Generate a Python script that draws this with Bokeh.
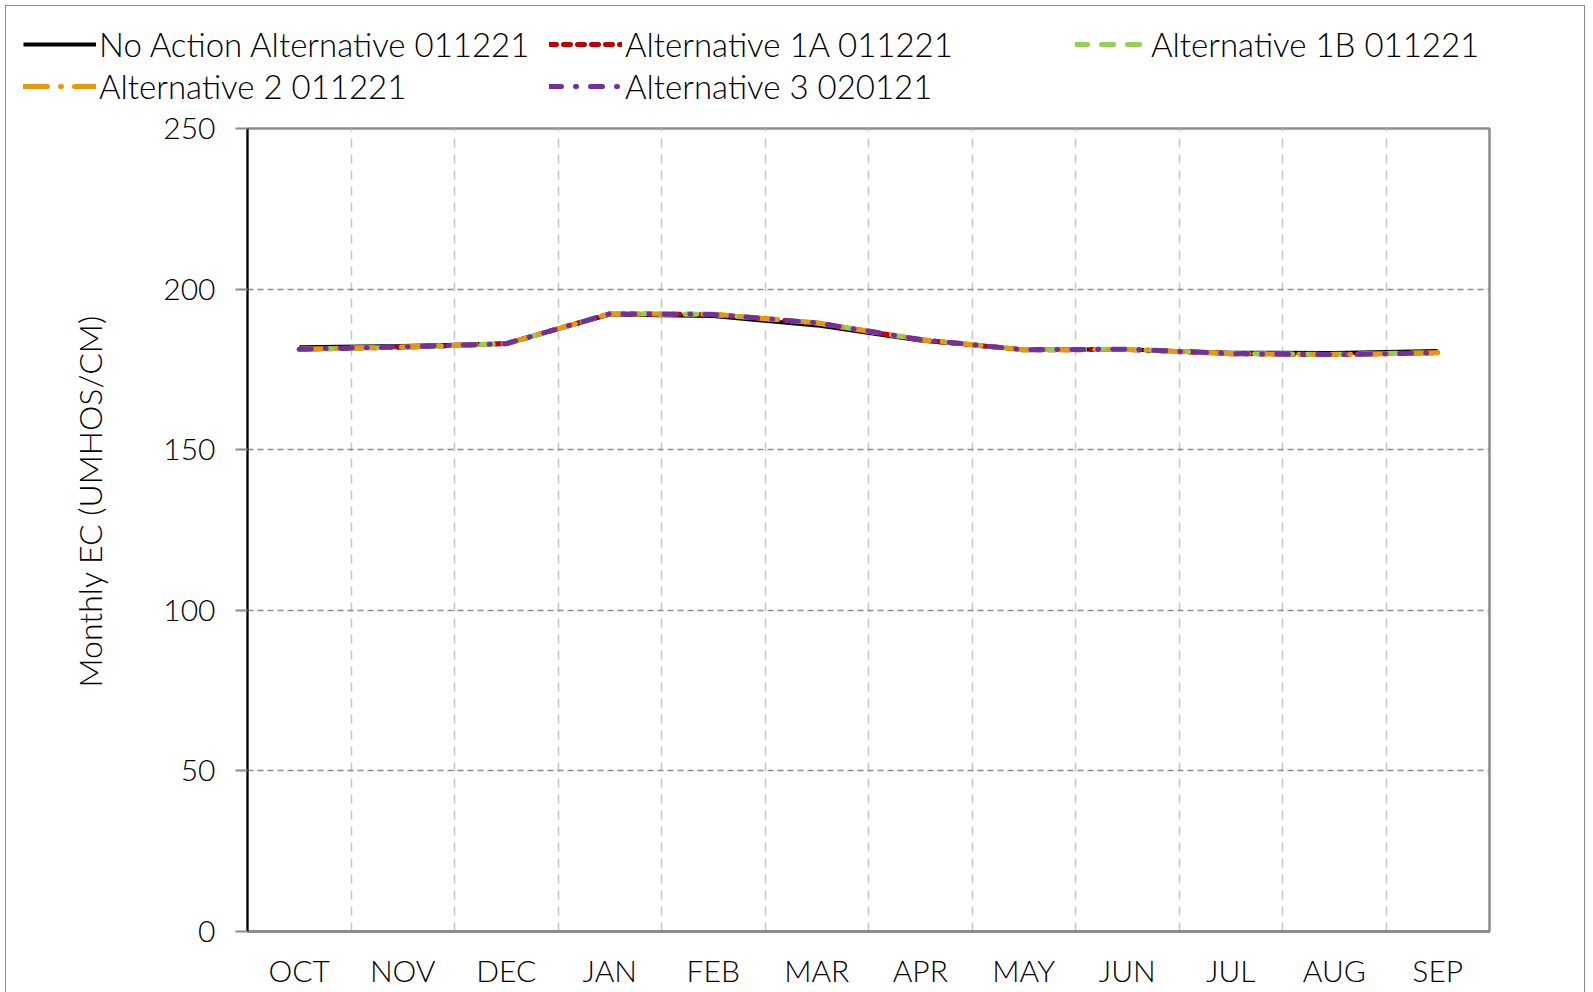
import numpy as np
from bokeh.plotting import figure
from bokeh.models import Range1d, FixedTicker, Legend, LegendItem, Title
from bokeh.embed import file_html
from bokeh.resources import INLINE

months = ["OCT", "NOV", "DEC", "JAN", "FEB", "MAR", "APR", "MAY", "JUN", "JUL", "AUG", "SEP"]
no_action = [181.9, 182.3, 183.1, 192.1, 191.6, 188.7, 184.0, 181.2, 181.2, 180.2, 180.1, 180.7]
alt_1a = [181.3, 181.9, 183.0, 192.3, 192.1, 189.4, 184.2, 181.1, 181.2, 179.9, 179.6, 180.2]
alt_1b = [181.3, 181.9, 183.0, 192.3, 192.1, 189.5, 184.3, 181.1, 181.3, 179.9, 179.7, 180.2]
alt_2 = [181.3, 182.0, 183.0, 192.3, 192.2, 189.5, 184.3, 181.1, 181.2, 179.9, 179.6, 180.2]
alt_3 = [181.3, 182.0, 183.0, 192.3, 192.1, 189.5, 184.3, 181.1, 181.3, 179.9, 179.6, 180.2]
series_names = ["No Action Alternative 011221", "Alternative 1A 011221", "Alternative 1B 011221",
                "Alternative 2 011221", "Alternative 3 020121"]
y_ticks = [0, 50, 100, 150, 200, 250]
y_title = "Monthly EC (UMHOS/CM)"

FONT = "'Lato Light', Lato"
FS = "30px"
FS_BIG = "32px"
FS_LEG = "33px"

styles = [
    dict(line_color="#000000", line_width=4, line_dash="solid"),
    dict(line_color="#C00000", line_width=5, line_dash="7 7", line_cap="round"),
    dict(line_color="#92D050", line_width=5, line_dash="12 14", line_cap="round"),
    dict(line_color="#E8980E", line_width=5, line_dash="24 13 1 13", line_cap="round"),
    dict(line_color="#7030A0", line_width=5, line_dash="12 14 1 14", line_cap="round"),
]
series = [no_action, alt_1a, alt_1b, alt_2, alt_3]

x = np.arange(len(months)) + 0.5

W = 1580
LEG_H = 100
BORDER = "1.5px solid #8a8a8a"

# ---------- legend strip (its own root; the series lie outside its ranges) ----------
lf = figure(width=W, height=LEG_H, output_backend="svg", toolbar_location=None,
            x_range=Range1d(0, 12), y_range=Range1d(0, 1),
            min_border=0, x_axis_location=None, y_axis_location=None)
lf.grid.visible = False
lf.outline_line_color = None
lf.styles = {"margin-left": "5px", "margin-top": "5px",
             "border-top": BORDER, "border-left": BORDER, "border-right": BORDER}
leg_r = [lf.line(x, vals, **st) for vals, st in zip(series, styles)]
order = [0, 3, 1, 4, 2]  # column-major fill: col1 = NA, Alt2; col2 = 1A, Alt3; col3 = 1B
legend = Legend(items=[LegendItem(label=series_names[i], renderers=[leg_r[i]]) for i in order],
                ncols=3, location=(17, 0),
                glyph_width=73, glyph_height=30, label_height=30, label_width=448,
                label_standoff=3, spacing=2, padding=0, margin=0,
                border_line_color=None, background_fill_alpha=0,
                label_text_font=FONT, label_text_font_size=FS_LEG, label_text_color="#000000")
lf.add_layout(legend, "center")

# ---------- main chart ----------
p = figure(width=W, height=887, output_backend="svg", toolbar_location=None,
           x_range=Range1d(0, 12), y_range=Range1d(0, 250),
           min_border_left=241, min_border_right=97, min_border_top=23, min_border_bottom=61)
p.styles = {"margin-left": "5px", "border-left": BORDER, "border-right": BORDER}

p.outline_line_color = "#8c8c8c"
p.outline_line_width = 2.5

p.ygrid.ticker = FixedTicker(ticks=y_ticks)
p.ygrid.grid_line_color = "#8c8c8c"
p.ygrid.grid_line_width = 1.5
p.ygrid.grid_line_dash = "6 4"
p.xgrid.ticker = FixedTicker(ticks=list(range(1, 12)))
p.xgrid.grid_line_color = "#c4c4c4"
p.xgrid.grid_line_width = 1.5
p.xgrid.grid_line_dash = "9 7"

p.xaxis.ticker = FixedTicker(ticks=list(x))
p.xaxis.major_label_overrides = {float(v): m for v, m in zip(x, months)}
p.xaxis.major_tick_out = 0
p.xaxis.major_tick_in = 0
p.xaxis.minor_tick_out = 0
p.xaxis.axis_line_color = "#8c8c8c"
p.xaxis.axis_line_width = 3
p.xaxis.major_label_standoff = 20
p.xaxis.major_label_text_font = FONT
p.xaxis.major_label_text_font_size = FS
p.xaxis.major_label_text_color = "#000000"

p.yaxis.ticker = FixedTicker(ticks=y_ticks)
p.yaxis.major_tick_out = 12
p.yaxis.major_tick_in = 0
p.yaxis.minor_tick_out = 0
p.yaxis.major_tick_line_color = "#8c8c8c"
p.yaxis.major_tick_line_width = 2
p.yaxis.axis_line_color = "#000000"
p.yaxis.axis_line_width = 2
p.yaxis.major_label_standoff = 20
p.yaxis.major_label_text_font = FONT
p.yaxis.major_label_text_font_size = FS
p.yaxis.major_label_text_color = "#000000"

ytitle = Title(text=y_title, align="left", offset=244, standoff=103,
               text_font=FONT, text_font_size=FS_BIG, text_font_style="normal",
               text_color="#000000")
p.add_layout(ytitle, "left")

for vals, st in zip(series, styles):
    p.line(x, vals, **st)

open("out.html", "w").write(file_html([lf, p], INLINE))
